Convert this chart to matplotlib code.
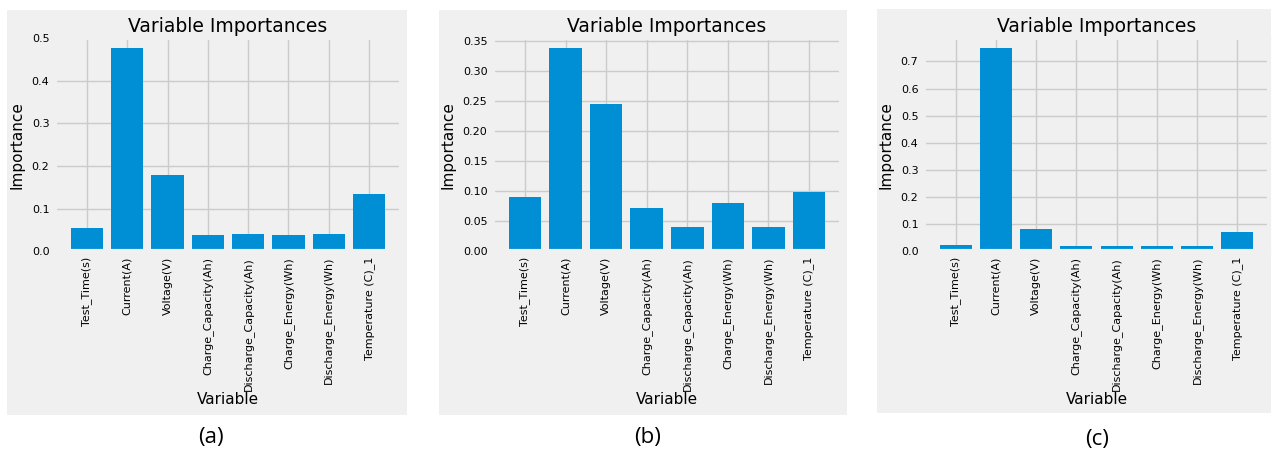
import matplotlib
matplotlib.use("Agg")
import matplotlib.pyplot as plt
from matplotlib.patches import Rectangle

plt.style.use("fivethirtyeight")

variables = ["Test_Time(s)", "Current(A)", "Voltage(V)", "Charge_Capacity(Ah)",
             "Discharge_Capacity(Ah)", "Charge_Energy(Wh)", "Discharge_Energy(Wh)",
             "Temperature (C)_1"]

imp_a = [0.054, 0.476, 0.180, 0.038, 0.041, 0.039, 0.041, 0.135]
imp_b = [0.091, 0.338, 0.245, 0.073, 0.041, 0.080, 0.041, 0.099]
imp_c = [0.024, 0.749, 0.082, 0.020, 0.020, 0.020, 0.020, 0.071]

yticks_a = [0.0, 0.1, 0.2, 0.3, 0.4, 0.5]
yticks_b = [0.00, 0.05, 0.10, 0.15, 0.20, 0.25, 0.30, 0.35]
yticks_c = [0.0, 0.1, 0.2, 0.3, 0.4, 0.5, 0.6, 0.7]
ytick_fmt = ["{:.1f}", "{:.2f}", "{:.1f}"]

captions = ["(a)", "(b)", "(c)"]

W, H = 1274, 455
fig = plt.figure(figsize=(W / 100, H / 100), dpi=100, facecolor="white")

# panel backgrounds (pixels: left, top, right, bottom)
panels = [(7, 10, 407, 415), (439, 10, 847, 415), (877, 9, 1271, 413)]
# axes boxes (pixels: left, right)
axes_x = [(55, 401), (493, 841), (924, 1269)]
ax_top, ax_bottom = 38, 251.4
caption_xy = [(211, 437), (648, 437), (1097, 440)]

for i, (vals, ticks) in enumerate(zip([imp_a, imp_b, imp_c], [yticks_a, yticks_b, yticks_c])):
    l, t, r, b = panels[i]
    fig.patches.append(Rectangle((l / W, 1 - b / H), (r - l) / W, (b - t) / H,
                                 transform=fig.transFigure, facecolor="#f0f0f0",
                                 edgecolor="none", zorder=-10))
    x0, x1 = axes_x[i]
    ax = fig.add_axes([x0 / W, 1 - ax_bottom / H, (x1 - x0) / W, (ax_bottom - ax_top) / H])
    ax.set_facecolor("#f0f0f0")
    ax.bar(range(len(variables)), vals, color="#008fd5")
    ax.set_xticks(range(len(variables)))
    ax.set_xticklabels(variables, rotation=90, fontsize=8)
    ax.set_yticks(ticks)
    ax.set_yticklabels([ytick_fmt[i].format(v) for v in ticks], fontsize=8)
    ax.set_ylim(0, max(max(vals) * 1.05, ticks[-1]))
    ax.tick_params(axis="both", pad=4)
    ax.set_title("Variable Importances", fontsize=13.5, pad=4)
    ax.set_ylabel("Importance", fontsize=11, labelpad=5)
    ax.set_xlabel("Variable", fontsize=11, labelpad=1)
    cx, cy = caption_xy[i]
    fig.text(cx / W, 1 - cy / H, captions[i], ha="center", va="center",
             fontsize=16, family="Open Sans")

fig.savefig("out.png", dpi=100, facecolor="white")
